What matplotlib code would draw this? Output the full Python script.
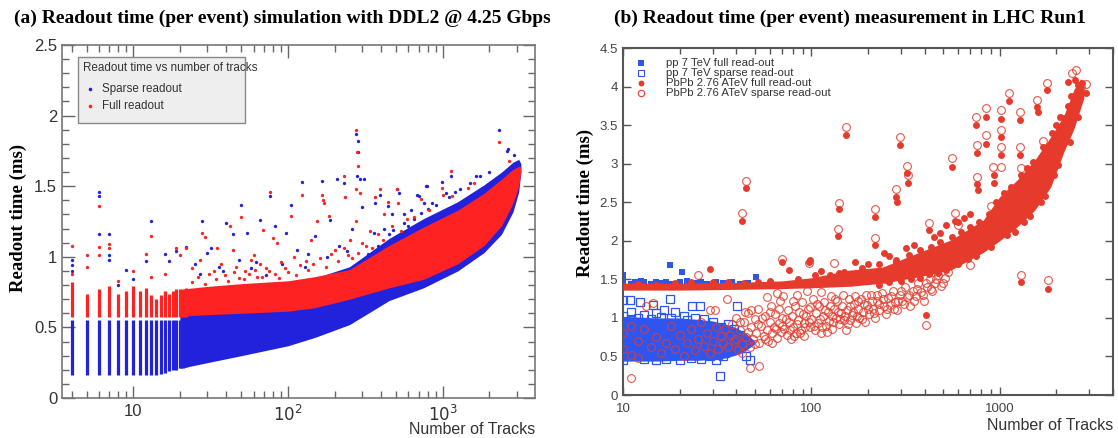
import matplotlib
matplotlib.use("Agg")
import matplotlib.pyplot as plt
from matplotlib.patches import Rectangle
from matplotlib.ticker import FixedLocator, FixedFormatter, NullFormatter, LogLocator, MultipleLocator

# ======================= DATA : panel (a) simulation =======================
# integer-track columns (low multiplicity)
col_tracks  = [4, 5, 6, 7, 8, 9, 10, 11, 12, 13, 14, 15, 16, 17, 18, 19, 20, 21, 22]
col_blue_lo = [0.16, 0.16, 0.16, 0.16, 0.16, 0.16, 0.16, 0.16, 0.16, 0.16, 0.165, 0.17, 0.18, 0.19, 0.2, 0.2, 0.21, 0.21, 0.22]
col_blue_hi = [0.55] * 19
col_red_lo  = [0.575] * 19
col_red_hi  = [0.82, 0.74, 0.77, 0.79, 0.74, 0.76, 0.79, 0.76, 0.78, 0.73, 0.70, 0.73, 0.76, 0.74, 0.76, 0.77, 0.77, 0.76, 0.78]

# dense band envelopes (high multiplicity)
band_tracks = [20, 30, 50, 100, 150, 250, 450, 750, 1250, 1850, 2400, 2850, 3100, 3200]
blue_lo = [0.21, 0.25, 0.30, 0.37, 0.43, 0.52, 0.69, 0.78, 0.90, 1.03, 1.16, 1.32, 1.46, 1.60]
blue_hi = [0.76, 0.78, 0.80, 0.82, 0.85, 0.93, 1.13, 1.27, 1.39, 1.51, 1.60, 1.67, 1.69, 1.66]
red_lo  = [0.58, 0.59, 0.60, 0.615, 0.64, 0.70, 0.78, 0.84, 0.95, 1.08, 1.22, 1.38, 1.50, 1.60]
red_hi  = [0.77, 0.79, 0.81, 0.83, 0.86, 0.91, 1.08, 1.21, 1.33, 1.45, 1.55, 1.62, 1.64, 1.64]

red_outliers = [(4, 1.08), (4, 0.88), (5, 1.01), (5, 0.93), (6, 1.36), (6, 1.07), (6, 1.01), (7, 1.09), (7, 1.06),
                (8, 0.83), (10, 0.90), (12, 1.02), (13, 1.15), (13, 0.86), (16, 0.88), (19, 1.06), (20, 1.01),
                (22, 1.06), (24, 0.92), (27, 0.98), (28, 1.17), (29, 1.14), (31, 0.88), (35, 1.06), (37, 0.95),
                (42, 1.22), (44, 1.05), (46, 0.93), (50, 1.28), (53, 0.90), (58, 0.98), (60, 1.01), (66, 0.95),
                (69, 1.19), (72, 0.92), (76, 1.46), (80, 1.13), (85, 1.10), (90, 0.96), (104, 1.29), (110, 1.00),
                (123, 1.44), (130, 0.97), (140, 1.12), (155, 1.25), (166, 1.44), (168, 1.40), (170, 1.38),
                (185, 1.29), (200, 1.05), (229, 1.57), (235, 1.42), (250, 1.12), (274, 1.90), (280, 1.74),
                (282, 1.64), (275, 1.48), (290, 1.45), (276, 1.25), (300, 1.10), (340, 1.18), (367, 1.42),
                (395, 1.48), (420, 1.30), (440, 1.39), (508, 1.48), (512, 1.38), (590, 1.27), (720, 1.41),
                (993, 1.49), (1000, 1.44), (1127, 1.61), (1450, 1.49), (2323, 1.81), (2700, 1.68),
                (34, 0.84), (39, 0.87), (48, 0.85), (56, 0.88), (63, 0.86), (75, 0.90), (95, 0.92), (120, 0.94),
                (160, 0.99), (190, 1.02), (230, 1.06), (260, 0.99), (320, 1.08), (380, 1.16), (470, 1.22),
                (24, 0.82), (26, 0.86), (29, 0.81), (33, 0.90), (41, 0.83), (45, 0.89), (52, 0.84), (61, 0.91),
                (68, 0.86), (82, 0.88), (88, 0.85), (100, 0.89), (112, 0.87), (135, 0.91), (145, 0.95),
                (175, 0.93), (210, 0.97), (245, 1.01), (285, 1.03), (350, 1.06), (410, 1.12), (540, 1.18),
                (650, 1.28), (820, 1.33), (1150, 1.43), (1600, 1.52)]

blue_outliers = [(4, 0.98), (4, 0.94), (4, 0.90), (6, 1.46), (6, 1.43), (6, 1.16), (7, 1.16), (7, 1.01), (7, 0.98),
                 (8, 0.80), (9, 0.91), (10, 0.84), (12, 0.97), (13, 1.25), (16, 1.02), (17, 0.97), (19, 1.04),
                 (22, 1.07), (25, 0.95), (28, 1.25), (30, 1.03), (32, 1.06), (36, 0.93), (40, 1.24), (44, 1.16),
                 (48, 0.98), (50, 1.37), (54, 1.17), (62, 0.96), (66, 1.26), (76, 1.43), (83, 1.22), (97, 1.17),
                 (104, 1.37), (115, 1.05), (123, 1.53), (135, 1.02), (150, 1.15), (166, 1.54), (187, 1.26),
                 (207, 1.55), (215, 1.08), (229, 1.52), (260, 1.20), (277, 1.87), (285, 1.82), (283, 1.74),
                 (278, 1.57), (290, 1.55), (300, 1.35), (310, 1.55), (367, 1.38), (395, 1.44), (420, 1.20),
                 (440, 1.36), (470, 1.30), (508, 1.48), (520, 1.45), (560, 1.24), (620, 1.33), (684, 1.44),
                 (703, 1.43), (775, 1.50), (789, 1.50), (850, 1.38), (995, 1.53), (1127, 1.57), (1300, 1.48),
                 (1640, 1.57), (1750, 1.57), (2323, 1.90), (2610, 1.75), (2630, 1.76), (2900, 1.72),
                 (330, 1.02), (380, 1.08), (450, 1.16), (480, 1.19), (530, 1.12), (600, 1.22), (650, 1.27),
                 (720, 1.31), (800, 1.34), (900, 1.37), (1100, 1.42), (1200, 1.46), (1500, 1.52), (2000, 1.60),
                 (27, 0.88), (38, 0.90), (58, 0.92), (72, 0.87), (92, 0.95), (128, 0.93), (180, 1.00),
                 (240, 1.04), (360, 1.17), (560, 1.30), (760, 1.38), (1050, 1.45)]

# ======================= DATA : panel (b) measurement =======================
pp_full = [(10, 1.42), (10, 1.47), (10, 1.52), (10, 1.56), (11, 1.44), (11.6, 1.47), (12, 1.43), (12.5, 1.48),
           (13, 1.46), (14, 1.44), (15, 1.47), (16, 1.45), (17, 1.46), (17.8, 1.69), (18, 1.44), (20.5, 1.59),
           (20, 1.46), (22, 1.48), (24, 1.45), (26, 1.47), (28, 1.44), (31, 1.46), (34, 1.45), (38, 1.46),
           (42, 1.44), (46, 1.45), (51, 1.53)]

pp_sparse_mass_x  = [10, 15, 20, 25, 30, 35, 40, 45, 50]
pp_sparse_mass_lo = [0.44, 0.44, 0.45, 0.45, 0.46, 0.48, 0.52, 0.58, 0.66]
pp_sparse_mass_hi = [1.02, 1.00, 1.00, 0.98, 0.96, 0.92, 0.87, 0.80, 0.70]
pp_sparse = [(10, 0.45), (10, 1.02), (10, 1.23), (10.9, 1.23), (11, 0.98), (11, 1.07), (12, 1.00), (12.3, 1.21),
             (13, 0.47), (13, 1.04), (14, 0.99), (14.5, 1.17), (15, 0.46), (15, 1.06), (16, 1.01), (16.5, 1.10),
             (17, 0.47), (17.8, 1.24), (18, 1.00), (19, 1.08), (20, 0.46), (21, 1.02), (22, 0.97), (23.2, 1.15),
             (23, 0.48), (24, 1.00), (25.7, 1.15), (25, 0.92), (26, 0.47), (27, 0.98), (28, 0.90), (29, 0.50),
             (30, 0.95), (31, 0.46), (32, 0.52), (32.8, 0.25), (33, 0.88), (34, 0.50), (35, 0.55), (36, 0.92),
             (38, 0.60), (39, 0.85), (40.2, 1.15), (41, 0.62), (42, 0.78), (44, 0.68), (45, 0.50), (47, 0.46)]

pb_full_band_x  = [10, 20, 40, 70, 100, 160, 240, 365, 550, 820, 1000, 1240, 1540, 1870, 2190, 2480, 2690, 2800]
pb_full_band_lo = [1.36, 1.36, 1.37, 1.38, 1.39, 1.41, 1.45, 1.53, 1.62, 1.85, 2.00, 2.18, 2.40, 2.70, 3.15, 3.45, 3.72, 3.85]
pb_full_band_hi = [1.45, 1.45, 1.46, 1.48, 1.52, 1.62, 1.66, 1.84, 2.01, 2.27, 2.57, 2.79, 3.05, 3.35, 3.62, 3.96, 4.10, 4.05]
pb_full = [(12, 1.44), (15, 1.43), (19, 1.45), (23, 1.47), (28.8, 1.63), (30, 1.46), (36, 1.47), (44, 1.45),
           (52, 1.46), (60, 1.48), (69.8, 1.72), (76, 1.62), (85, 1.50), (97, 1.73), (99, 1.75), (105, 1.55),
           (113, 1.61), (126, 1.55), (140, 1.58), (150, 1.60), (171, 1.72), (185, 1.65), (200, 1.70),
           (243, 1.84), (260, 1.80), (280, 1.75), (320, 1.90), (350, 1.95), (404, 1.04), (450, 2.05),
           (480, 2.10), (520, 2.20), (600, 2.25), (650, 2.30), (700, 2.35),
           (42.7, 2.26), (45.1, 2.69), (138, 2.06), (140, 2.41), (153, 3.37), (219, 2.31), (219, 1.95),
           (283, 2.57), (286, 2.50), (297, 3.24), (323, 2.88), (328, 2.75), (420, 2.14), (560, 2.96),
           (580, 2.26), (747, 3.50), (843, 3.61), (843, 3.26), (760, 3.14), (760, 2.74), (770, 2.66),
           (930, 2.85), (930, 2.75), (1012, 3.58), (1015, 3.34), (1012, 3.11), (1121, 3.81), (1283, 3.57),
           (1290, 3.11), (1294, 1.46), (1585, 3.74), (1600, 3.67), (1795, 3.96), (1807, 1.38), (2300, 4.06),
           (2500, 4.09), (2865, 3.91), (2200, 3.59),
           # ragged band edges
           (230, 1.43), (260, 1.46), (300, 1.48), (340, 1.50), (380, 1.52), (420, 1.57), (470, 1.58),
           (520, 1.62), (600, 1.70), (680, 1.76), (750, 1.80), (900, 1.92), (1100, 2.08), (1200, 2.12),
           (1350, 2.25), (1450, 2.32), (1650, 2.50), (1750, 2.58), (1950, 2.85), (2050, 2.98), (2350, 3.28),
           (2600, 3.60), (230, 1.70), (280, 1.72), (330, 1.82), (380, 1.88), (430, 1.92), (480, 1.98),
           (560, 2.05), (620, 2.12), (700, 2.18), (780, 2.25), (880, 2.35), (960, 2.50), (1050, 2.62),
           (1150, 2.70), (1300, 2.85), (1400, 2.95), (1500, 3.02), (1700, 3.22), (1900, 3.40), (2000, 3.50),
           (2100, 3.60), (2300, 3.75), (2400, 3.88), (2600, 4.02), (2750, 4.05)]

pb_sparse = [(42.7, 2.36), (45.1, 2.78), (138, 2.15), (140, 2.49), (153, 3.47), (219, 2.41), (219, 2.04),
             (283, 2.67), (297, 3.35), (323, 2.97), (328, 2.85), (420, 2.23), (560, 3.07), (580, 2.36),
             (747, 3.60), (843, 3.72), (843, 3.37), (760, 3.24), (760, 2.83), (925, 2.96), (1012, 3.70),
             (1015, 3.44), (1012, 3.21), (1020, 2.96), (1121, 3.91), (1283, 3.67), (1283, 3.22), (1294, 1.56),
             (1585, 3.83), (1795, 4.05), (1807, 1.49), (2432, 4.17), (2550, 4.22), (2865, 4.03), (404, 0.91),
             (11, 0.22), (47.4, 0.35), (52.5, 0.37), (69.8, 1.77), (97, 1.71), (25, 1.56), (132, 1.71),
             (113, 1.34), (35.6, 1.25), (14.5, 1.19), (13.3, 1.15), (29, 1.10), (30.8, 1.10), (44.5, 1.08),
             (10, 0.60), (10, 0.80), (11, 0.52), (11, 0.90), (12, 0.70), (12, 0.48), (13, 0.85), (14, 0.62),
             (15, 0.75), (16, 0.55), (17, 0.68), (18, 0.90), (19, 0.60), (20, 0.78), (21, 0.50), (22, 0.68),
             (23, 0.86), (24, 0.58), (25, 0.72), (26, 0.95), (27, 0.63), (28, 0.80), (29, 0.55), (30, 0.70),
             (31, 0.88), (32, 0.60), (33, 0.76), (34, 0.68), (35, 0.85),
             (36, 0.62), (37, 0.78), (38, 0.92), (39, 0.70), (40, 1.00), (41, 0.58), (42, 0.84), (43, 0.66),
             (44, 0.95), (45, 0.75), (46, 1.06), (47, 0.62), (48, 0.88), (49, 0.72), (50, 0.98), (51, 0.80),
             (52, 1.12), (53, 0.68), (54, 0.90), (56, 0.76), (57, 1.02), (58, 1.27), (58, 0.84), (59, 0.70),
             (60, 0.95), (61, 1.15), (62, 0.80), (63, 0.88), (64, 1.05), (66, 1.32), (66, 0.74), (67, 0.93),
             (68, 1.22), (69, 0.82), (70, 1.00), (71, 1.28), (72, 0.86), (74, 0.78), (75, 1.10), (76, 0.95),
             (78, 0.72), (79, 1.03), (80, 0.88), (82, 1.16), (83, 0.80), (84, 1.30), (85, 0.97), (86, 1.07),
             (88, 0.84), (89, 1.20), (91, 0.93), (92, 0.76), (94, 1.02), (95, 1.35), (96, 1.12), (98, 0.88),
             (100, 0.98), (102, 1.25), (104, 0.84), (106, 1.06), (108, 0.93), (110, 1.15), (112, 0.80),
             (115, 1.02), (117, 1.20), (119, 0.90), (122, 1.08), (124, 0.96), (127, 1.28), (129, 0.86),
             (132, 1.12), (135, 1.00), (137, 1.22), (140, 0.92), (143, 1.06), (146, 1.16), (149, 0.97),
             (152, 0.84), (155, 1.10), (158, 1.25), (161, 0.97), (164, 1.04), (168, 1.18), (172, 0.93),
             (176, 1.12), (180, 1.00), (184, 1.25), (188, 1.08), (192, 0.95), (197, 1.17), (202, 1.05),
             (207, 1.30), (212, 1.12), (218, 1.00), (224, 1.22), (230, 1.10), (236, 1.32), (242, 1.15),
             (248, 1.05), (255, 1.26), (262, 1.17), (270, 1.35), (278, 1.20), (286, 1.10), (295, 1.30),
             (304, 1.22), (314, 1.40), (324, 1.27), (335, 1.15), (346, 1.35), (358, 1.28), (370, 1.45),
             (383, 1.33), (396, 1.22), (410, 1.40), (425, 1.50), (440, 1.35), (456, 1.45), (472, 1.55),
             (490, 1.42), (510, 1.52), (530, 1.60),
             (40, 0.72), (42, 0.95), (43, 0.55), (46, 0.82), (48, 1.10), (50, 0.66), (52, 0.92), (55, 1.00),
             (57, 0.72), (60, 1.08), (62, 0.68), (65, 0.85), (67, 1.12), (70, 0.90), (73, 0.98), (77, 0.84),
             (80, 1.22), (81, 0.76), (84, 0.92), (87, 0.80), (90, 1.05), (93, 0.88), (97, 0.95), (99, 1.14),
             (103, 0.90), (107, 1.18), (111, 0.98), (114, 0.88), (118, 1.10), (121, 0.82), (125, 1.16),
             (128, 1.02), (131, 0.95), (134, 1.24), (139, 1.08), (142, 0.98), (147, 1.30), (151, 1.02),
             (156, 0.92), (160, 1.15), (166, 1.08), (170, 1.28), (174, 1.02), (178, 1.22), (186, 0.98),
             (190, 1.18), (195, 1.30), (200, 1.12), (210, 1.22), (215, 1.06), (222, 1.30), (228, 1.18),
             (240, 1.25), (252, 1.12), (265, 1.28), (275, 1.12), (290, 1.22), (300, 1.35), (310, 1.18),
             (330, 1.30), (350, 1.22), (365, 1.38), (390, 1.30), (405, 1.45), (430, 1.38), (460, 1.50),
             (500, 1.45),
             (250, 1.50), (320, 1.58), (400, 1.62), (470, 1.70), (550, 1.75), (650, 1.80), (700, 1.68),
             (800, 1.95), (900, 2.10), (1000, 2.20), (1100, 2.35), (1250, 2.45), (1400, 2.60), (1600, 2.75),
             (1800, 3.05), (2000, 3.25), (2200, 3.45), (2500, 3.80), (2700, 4.00), (600, 2.20), (900, 2.45),
             (1300, 2.95), (1700, 3.30)]

legend_b = ["pp 7 TeV full read-out", "pp 7 TeV sparse read-out",
            "PbPb 2.76 ATeV full read-out", "PbPb 2.76 ATeV sparse read-out"]

# ======================= STYLE =======================
SANS = ["Liberation Sans", "DejaVu Sans"]
SERIF = ["Liberation Serif", "DejaVu Serif"]
BLUE_A, RED_A = "#2222dd", "#ff2222"
BLUE_B, RED_B = "#2f55f0", "#e53a2c"

fig = plt.figure(figsize=(11.18, 4.38), dpi=100)
W, H = 1118.0, 438.0
axL = fig.add_axes([62 / W, 1 - 398 / H, 473 / W, 353 / H])
axR = fig.add_axes([623 / W, 1 - 395 / H, 490 / W, 347 / H])

# ---------------- panel (a) ----------------
axL.set_xscale("log")
axL.set_xlim(3.46, 3950)
axL.set_ylim(0, 2.5)

axL.fill_between(band_tracks, blue_lo, blue_hi, color=BLUE_A, lw=0, zorder=2)
axL.vlines(col_tracks, col_blue_lo, col_blue_hi, colors=BLUE_A, lw=2.3, zorder=2)
bx, by = zip(*blue_outliers)
axL.plot(bx, by, "o", color=BLUE_A, ms=2.4, mew=0, zorder=3)
axL.fill_between(band_tracks, red_lo, red_hi, color=RED_A, lw=0, zorder=4)
axL.vlines(col_tracks, col_red_lo, col_red_hi, colors=RED_A, lw=2.3, zorder=4)
rx, ry = zip(*red_outliers)
axL.plot(rx, ry, "o", color=RED_A, ms=2.4, mew=0, zorder=5)

axL.xaxis.set_major_locator(FixedLocator([10, 100, 1000]))
axL.xaxis.set_major_formatter(FixedFormatter(["10", r"$10^2$", r"$10^3$"]))
axL.xaxis.set_minor_locator(LogLocator(base=10, subs=range(2, 10), numticks=20))
axL.xaxis.set_minor_formatter(NullFormatter())
axL.yaxis.set_major_locator(FixedLocator([0, 0.5, 1, 1.5, 2, 2.5]))
axL.yaxis.set_major_formatter(FixedFormatter(["0", "0.5", "1", "1.5", "2", "2.5"]))
axL.yaxis.set_minor_locator(MultipleLocator(0.1))
axL.tick_params(which="both", direction="in", top=True, right=True, colors="#666666",
                labelcolor="#333333", labelsize=12, width=1.0)
axL.tick_params(which="major", length=9)
axL.tick_params(which="minor", length=5)
axL.tick_params(axis="x", which="major", pad=4)
for lab in axL.get_xticklabels() + axL.get_yticklabels():
    lab.set_fontfamily(SANS)
for s in axL.spines.values():
    s.set_color("#777777")
    s.set_linewidth(1.2)

# legend (a)
axL.add_patch(Rectangle((0.034, 0.779), 0.353, 0.187, transform=axL.transAxes,
                        facecolor="#eeeeee", edgecolor="#888888", lw=1.0, zorder=10))
axL.text(0.045, 0.935, "Readout time vs number of tracks", transform=axL.transAxes,
         fontsize=8.4, family=SANS, color="#333333", va="center", zorder=11)
axL.plot([0.060], [0.876], "o", color=BLUE_A, ms=2.6, mew=0, transform=axL.transAxes, zorder=11)
axL.text(0.085, 0.876, "Sparse readout", transform=axL.transAxes,
         fontsize=8.4, family=SANS, color="#333333", va="center", zorder=11)
axL.plot([0.060], [0.828], "o", color=RED_A, ms=2.6, mew=0, transform=axL.transAxes, zorder=11)
axL.text(0.085, 0.828, "Full readout", transform=axL.transAxes,
         fontsize=8.4, family=SANS, color="#333333", va="center", zorder=11)

# ---------------- panel (b) ----------------
axR.set_xscale("log")
axR.set_xlim(10, 4000)
axR.set_ylim(0, 4.5)

px, py = zip(*pp_full)
axR.plot(px, py, "s", color=BLUE_B, ms=4.8, mew=0, zorder=2)
axR.fill_between(pp_sparse_mass_x, pp_sparse_mass_lo, pp_sparse_mass_hi, color=BLUE_B, lw=0, zorder=3)
sx, sy = zip(*pp_sparse)
axR.plot(sx, sy, "s", mfc="none", mec=BLUE_B, ms=5.2, mew=0.9, zorder=3)
axR.fill_between(pb_full_band_x, pb_full_band_lo, pb_full_band_hi, color=RED_B, lw=0, zorder=4)
fx, fy = zip(*pb_full)
axR.plot(fx, fy, "o", color=RED_B, ms=5.0, mew=0, zorder=5)
ox, oy = zip(*pb_sparse)
axR.plot(ox, oy, "o", mfc="none", mec=RED_B, ms=5.6, mew=0.8, alpha=0.85, zorder=6)

axR.xaxis.set_major_locator(FixedLocator([10, 100, 1000]))
axR.xaxis.set_major_formatter(FixedFormatter(["10", "100", "1000"]))
axR.xaxis.set_minor_locator(LogLocator(base=10, subs=range(2, 10), numticks=20))
axR.xaxis.set_minor_formatter(NullFormatter())
yt = [0, 0.5, 1, 1.5, 2, 2.5, 3, 3.5, 4, 4.5]
axR.yaxis.set_major_locator(FixedLocator(yt))
axR.yaxis.set_major_formatter(FixedFormatter(["0", "0.5", "1", "1.5", "2", "2.5", "3", "3.5", "4", "4.5"]))
axR.tick_params(which="both", direction="in", top=True, right=True, colors="#555555",
                labelcolor="#444444", labelsize=9.5, width=1.0)
axR.tick_params(which="major", length=6)
axR.tick_params(which="minor", length=4)
axR.tick_params(axis="x", which="major", pad=6)
for lab in axR.get_xticklabels() + axR.get_yticklabels():
    lab.set_fontfamily(SANS)
for s in axR.spines.values():
    s.set_color("#555555")
    s.set_linewidth(1.5)

# legend (b)
leg_y = [0.958, 0.929, 0.900, 0.871]
styles = [dict(marker="s", color=BLUE_B, mfc=BLUE_B, ms=4.2, mew=0),
          dict(marker="s", color=BLUE_B, mfc="none", ms=4.6, mew=0.8),
          dict(marker="o", color=RED_B, mfc=RED_B, ms=4.2, mew=0),
          dict(marker="o", color=RED_B, mfc="none", ms=4.6, mew=0.8)]
for yy, lab, st in zip(leg_y, legend_b, styles):
    axR.plot([0.036], [yy], linestyle="none", transform=axR.transAxes, zorder=11, **st)
    axR.text(0.087, yy, lab, transform=axR.transAxes, fontsize=8.2, family=SANS,
             color="#333333", va="center", zorder=11)

# ---------------- titles & labels ----------------
fig.text(282 / W, 1 - 18 / H, "(a) Readout time (per event) simulation with DDL2 @ 4.25 Gbps",
         ha="center", va="center", family=SERIF, fontweight="bold", fontsize=14)
fig.text(850 / W, 1 - 18 / H, "(b) Readout time (per event) measurement in LHC Run1",
         ha="center", va="center", family=SERIF, fontweight="bold", fontsize=14)
fig.text(18 / W, 1 - 218 / H, "Readout time (ms)", rotation=90, ha="center", va="center",
         family=SERIF, fontweight="bold", fontsize=13.5)
fig.text(585 / W, 1 - 203 / H, "Readout time (ms)", rotation=90, ha="center", va="center",
         family=SERIF, fontweight="bold", fontsize=13.5)
fig.text(535 / W, 1 - 429 / H, "Number of Tracks", ha="right", va="center",
         family=SANS, fontsize=11.5, color="#333333")
fig.text(1113 / W, 1 - 426 / H, "Number of Tracks", ha="right", va="center",
         family=SANS, fontsize=11.5, color="#333333")

fig.savefig("out.png", dpi=100)
